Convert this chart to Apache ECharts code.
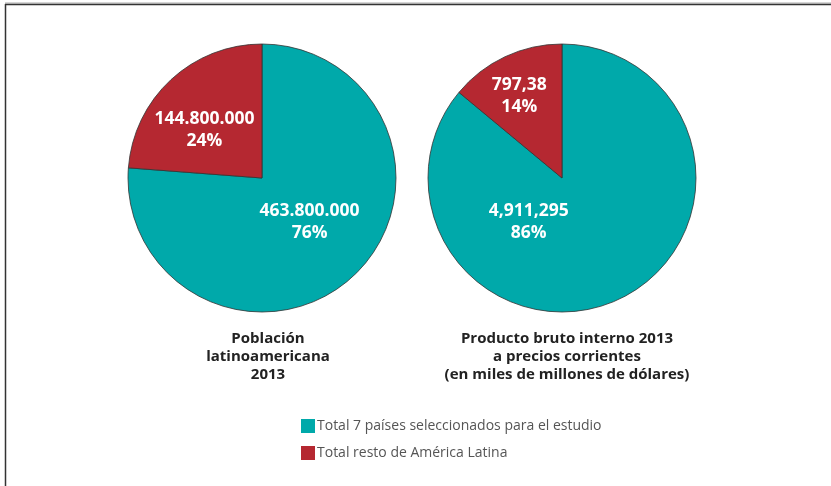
<!DOCTYPE html>
<html>
<head>
<meta charset="utf-8">
<script src="https://cdn.jsdelivr.net/npm/echarts@6/dist/echarts.min.js"></script>
<style>
  html, body { margin: 0; padding: 0; background: #fff; }
  #chart { width: 831px; height: 486px; }
</style>
</head>
<body>
<div id="chart"></div>
<script>
// categorías de la leyenda
const categories = ['Total 7 países seleccionados para el estudio', 'Total resto de América Latina']
// población 2013
const poblacion = [463800000, 144800000]
const poblacionTxt = ['463.800.000', '144.800.000']
// PIB 2013 (miles de millones de dólares)
const pib = [4911.295, 797.38]
const pibTxt = ['4,911,295', '797,38']

const colors = ['#00a9aa', '#b52831']
const font = '"Open Sans", Lato, sans-serif'

const chart = echarts.init(document.getElementById('chart'))

const pct = (arr, i) => Math.round(arr[i] / arr.reduce((a, b) => a + b, 0) * 100) + '%'

const makeData = (vals, txts, offsets) => vals.map((v, i) => ({
  name: categories[i],
  value: v,
  label: {
    formatter: txts[i] + '\n' + pct(vals, i),
    offset: offsets[i]
  }
}))

const pieBase = {
  type: 'pie',
  radius: 134,
  startAngle: 90,
  clockwise: true,
  silent: true,
  itemStyle: { borderColor: '#333', borderWidth: 0.8 },
  label: {
    show: true,
    position: 'inside',
    color: '#fff',
    fontFamily: font,
    fontWeight: 'bold',
    fontSize: 17.5,
    lineHeight: 22
  },
  labelLine: { show: false }
}

const option = {
  color: colors,
  animation: false,
  legend: {
    orient: 'vertical',
    left: 296,
    top: 414,
    itemWidth: 14,
    itemHeight: 14,
    itemGap: 13,
    icon: 'rect',
    selectedMode: false,
    data: categories,
    itemStyle: { borderWidth: 0 },
    textStyle: { color: '#555', fontSize: 14, fontFamily: font, padding: [0, 0, 0, -3] }
  },
  title: [
    {
      text: 'Población\nlatinoamericana\n2013',
      left: 263, top: 325, textAlign: 'center',
      textStyle: { color: '#222', fontSize: 15, fontWeight: 'bold', fontFamily: font, lineHeight: 18 }
    },
    {
      text: 'Producto bruto interno 2013\na precios corrientes\n(en miles de millones de dólares)',
      left: 562, top: 325, textAlign: 'center',
      textStyle: { color: '#222', fontSize: 15, fontWeight: 'bold', fontFamily: font, lineHeight: 18 }
    }
  ],
  graphic: [
    { type: 'line', shape: { x1: 5, y1: 3, x2: 831, y2: 3 }, style: { stroke: '#aaa', lineWidth: 1 } },
    { type: 'line', shape: { x1: 5, y1: 4.5, x2: 831, y2: 4.5 }, style: { stroke: '#333', lineWidth: 1.5 } },
    { type: 'line', shape: { x1: 5.5, y1: 4, x2: 5.5, y2: 486 }, style: { stroke: '#333', lineWidth: 1.5 } }
  ],
  series: [
    Object.assign({}, pieBase, {
      name: 'Población',
      center: [262, 178],
      data: makeData(poblacion, poblacionTxt, [[0, -7], [-10, 3]])
    }),
    Object.assign({}, pieBase, {
      name: 'PIB',
      center: [562, 178],
      data: makeData(pib, pibTxt, [[-63, -19], [-13, -19]])
    })
  ]
}

chart.setOption(option)
</script>
</body>
</html>
